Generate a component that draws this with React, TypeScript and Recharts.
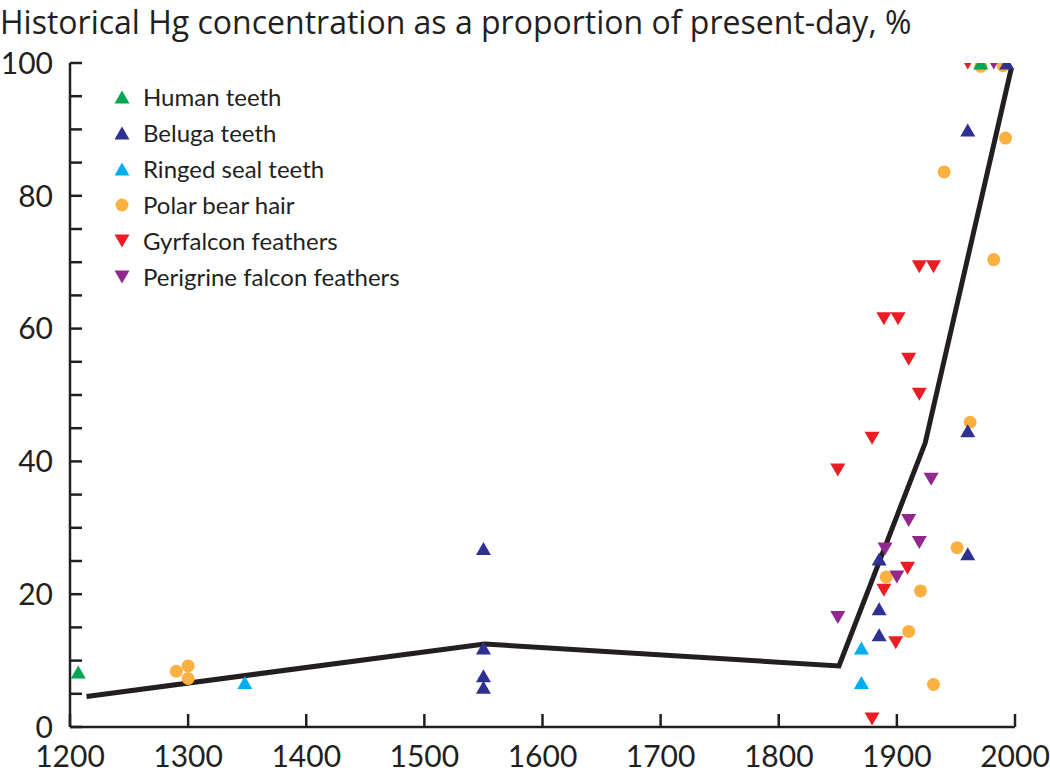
import { ComposedChart, Line, Scatter, XAxis, YAxis, Legend } from 'recharts';

const FONT = 'Lato, "Noto Sans", sans-serif';
const TITLE_FONT = '"Open Sans", "Noto Sans", sans-serif';
const INK = '#231f20';

const title = 'Historical Hg concentration as a proportion of present-day, %';

const xTicks = [1200, 1300, 1400, 1500, 1600, 1700, 1800, 1900, 2000];
const yTicks = [0, 5, 10, 15, 20, 25, 30, 35, 40, 45, 50, 55, 60, 65, 70, 75, 80, 85, 90, 95, 100];

const humanTeeth = [
  { year: 1207, value: 8.3 },
  { year: 1971, value: 100 },
];

const belugaTeeth = [
  { year: 1550, value: 26.9 },
  { year: 1550, value: 11.9 },
  { year: 1550, value: 7.7 },
  { year: 1550, value: 6.0 },
  { year: 1885, value: 25.3 },
  { year: 1885, value: 17.8 },
  { year: 1885, value: 13.9 },
  { year: 1960, value: 44.6 },
  { year: 1960, value: 26.1 },
  { year: 1960, value: 89.9 },
  { year: 1993, value: 100 },
];

const ringedSealTeeth = [
  { year: 1348, value: 6.7 },
  { year: 1870, value: 11.9 },
  { year: 1870, value: 6.7 },
];

const polarBearHair = [
  { year: 1290, value: 8.4 },
  { year: 1300, value: 9.2 },
  { year: 1300, value: 7.3 },
  { year: 1891, value: 22.6 },
  { year: 1910, value: 14.4 },
  { year: 1920, value: 20.5 },
  { year: 1931, value: 6.4 },
  { year: 1940, value: 83.6 },
  { year: 1951, value: 27.0 },
  { year: 1962, value: 45.9 },
  { year: 1982, value: 70.4 },
  { year: 1992, value: 88.7 },
  { year: 1971, value: 99.5 },
  { year: 1990, value: 99.6 },
];

const gyrfalconFeathers = [
  { year: 1850, value: 38.7 },
  { year: 1879, value: 43.5 },
  { year: 1879, value: 1.2 },
  { year: 1889, value: 61.5 },
  { year: 1901, value: 61.5 },
  { year: 1889, value: 20.6 },
  { year: 1899, value: 12.7 },
  { year: 1909, value: 23.9 },
  { year: 1910, value: 55.4 },
  { year: 1919, value: 50.1 },
  { year: 1919, value: 69.3 },
  { year: 1931, value: 69.3 },
  { year: 1960, value: 100 },
];

const peregrineFeathers = [
  { year: 1850, value: 16.5 },
  { year: 1890, value: 26.8 },
  { year: 1900, value: 22.6 },
  { year: 1910, value: 31.1 },
  { year: 1919, value: 27.8 },
  { year: 1929, value: 37.3 },
  { year: 1982, value: 100 },
];

const trendLine = [
  { year: 1214, value: 4.6 },
  { year: 1551, value: 12.5 },
  { year: 1851, value: 9.2 },
  { year: 1924, value: 42.8 },
  { year: 1997, value: 99.3 },
];

type Shape = 'up' | 'down' | 'circle';

const legendItems: { name: string; color: string; shape: Shape }[] = [
  { name: 'Human teeth', color: '#00a651', shape: 'up' },
  { name: 'Beluga teeth', color: '#2e3192', shape: 'up' },
  { name: 'Ringed seal teeth', color: '#00aeef', shape: 'up' },
  { name: 'Polar bear hair', color: '#fbb040', shape: 'circle' },
  { name: 'Gyrfalcon feathers', color: '#ed1c24', shape: 'down' },
  { name: 'Perigrine falcon feathers', color: '#92278f', shape: 'down' },
];

function marker(shape: Shape, cx: number, cy: number, color: string) {
  if (shape === 'circle') return <circle cx={cx} cy={cy} r={6.5} fill={color} />;
  const w = 7.5;
  const h = 6.5;
  const pts =
    shape === 'up'
      ? `${cx},${cy - h} ${cx + w},${cy + h} ${cx - w},${cy + h}`
      : `${cx - w},${cy - h} ${cx + w},${cy - h} ${cx},${cy + h}`;
  return <polygon points={pts} fill={color} />;
}

const shapeOf = (shape: Shape, color: string) => (props: any) =>
  marker(shape, props.cx, props.cy, color);

function XTick({ x, y, payload }: any) {
  return (
    <g>
      <line x1={x} y1={y} x2={x} y2={y - 13} stroke={INK} strokeWidth={2.5} />
      <text x={x} y={y + 40} textAnchor="middle" fontFamily={FONT} fontSize={30} fill={INK}>
        {payload.value}
      </text>
    </g>
  );
}

function YTick({ x, y, payload }: any) {
  const major = payload.value % 20 === 0;
  return (
    <g>
      <line x1={x} y1={y} x2={x + 12} y2={y} stroke={INK} strokeWidth={2.5} />
      {major && (
        <text x={x - 17} y={y} dy="0.36em" textAnchor="end" fontFamily={FONT} fontSize={30} fill={INK}>
          {payload.value}
        </text>
      )}
    </g>
  );
}

function LegendBox() {
  return (
    <div style={{ fontFamily: FONT, fontSize: 24, color: INK }}>
      {legendItems.map((item) => (
        <div key={item.name} style={{ display: 'flex', alignItems: 'center', height: 36, lineHeight: '36px' }}>
          <svg width={16} height={16} style={{ marginRight: 13 }}>
            {marker(item.shape, 8, 8, item.color)}
          </svg>
          <span>{item.name}</span>
        </div>
      ))}
    </div>
  );
}

const seriesData: Record<string, { year: number; value: number }[]> = {
  'Polar bear hair': polarBearHair,
  'Human teeth': humanTeeth,
  'Beluga teeth': belugaTeeth,
  'Ringed seal teeth': ringedSealTeeth,
  'Gyrfalcon feathers': gyrfalconFeathers,
  'Perigrine falcon feathers': peregrineFeathers,
};

// polar bear first so the triangles sit on top of the circles
const drawOrder = [
  'Polar bear hair',
  'Ringed seal teeth',
  'Gyrfalcon feathers',
  'Perigrine falcon feathers',
  'Human teeth',
  'Beluga teeth',
];

export default function App() {
  return (
    <div style={{ position: 'relative', width: 1050, height: 773, overflow: 'hidden', background: '#fff' }}>
      <style>{'body{margin:0}'}</style>
      <div
        style={{
          position: 'absolute',
          left: 0,
          top: 0,
          fontFamily: TITLE_FONT,
          fontSize: 32,
          color: INK,
          whiteSpace: 'nowrap',
        }}
      >
        {title}
      </div>
      <ComposedChart width={1050} height={773} margin={{ top: 63, right: 35, bottom: 0, left: 0 }}>
        <XAxis
          type="number"
          dataKey="year"
          domain={[1200, 2000]}
          ticks={xTicks}
          interval={0}
          allowDataOverflow
          height={46}
          tickSize={0}
          tickMargin={0}
          tickLine={false}
          axisLine={{ stroke: INK, strokeWidth: 2.5 }}
          tick={<XTick />}
        />
        <YAxis
          type="number"
          dataKey="value"
          domain={[0, 100]}
          ticks={yTicks}
          interval={0}
          allowDataOverflow
          width={70}
          tickSize={0}
          tickMargin={0}
          tickLine={false}
          axisLine={{ stroke: INK, strokeWidth: 2.5 }}
          tick={<YTick />}
        />
        <Legend
          layout="vertical"
          align="center"
          verticalAlign="middle"
          wrapperStyle={{ left: 114, top: 79, width: 320 }}
          content={() => <LegendBox />}
        />
        <Line
          data={trendLine}
          dataKey="value"
          type="linear"
          stroke={INK}
          strokeWidth={5}
          dot={false}
          activeDot={false}
          isAnimationActive={false}
        />
        {drawOrder.map((name) => {
          const item = legendItems.find((l) => l.name === name)!;
          return (
            <Scatter
              key={name}
              name={name}
              data={seriesData[name]}
              dataKey="value"
              fill={item.color}
              shape={shapeOf(item.shape, item.color)}
              isAnimationActive={false}
            />
          );
        })}
      </ComposedChart>
    </div>
  );
}
